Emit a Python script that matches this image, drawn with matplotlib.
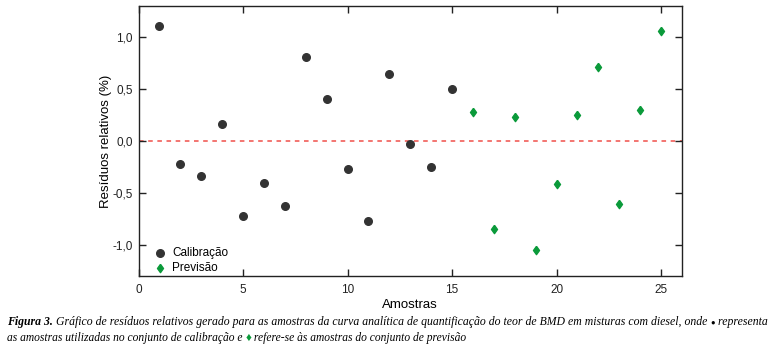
import matplotlib.pyplot as plt
from matplotlib.ticker import FuncFormatter

# Dados
amostras_cal = [1, 2, 3, 4, 5, 6, 7, 8, 9, 10, 11, 12, 13, 14, 15]
residuos_cal = [1.11, -0.22, -0.34, 0.16, -0.72, -0.40, -0.63, 0.81, 0.40,
                -0.27, -0.77, 0.65, -0.03, -0.25, 0.50]
amostras_prev = [16, 17, 18, 19, 20, 21, 22, 23, 24, 25]
residuos_prev = [0.28, -0.85, 0.23, -1.05, -0.41, 0.25, 0.71, -0.61, 0.30, 1.06]

x_ticks = [0, 5, 10, 15, 20, 25]
y_ticks = [-1.0, -0.5, 0.0, 0.5, 1.0]

COR_CAL = "#333333"
COR_PREV = "#0a9a3a"
COR_ZERO = "#f0504a"

# losango um pouco mais largo que o "d" do matplotlib
LOSANGO = [(0, 1), (0.72, 0), (0, -1), (-0.72, 0), (0, 1)]

plt.rcParams["font.family"] = ["Liberation Sans", "DejaVu Sans"]

fig = plt.figure(figsize=(7.83, 3.48), dpi=100)
ax = fig.add_axes([138.5 / 783, 1 - 276 / 348, (682 - 138.5) / 783, (276 - 6) / 348])

ax.axhline(0, color=COR_ZERO, linestyle=(0, (3, 3)), linewidth=1.1, zorder=1)
ax.scatter(amostras_cal, residuos_cal, s=30, color=COR_CAL, marker="o",
           label="Calibração", zorder=3)
ax.scatter(amostras_prev, residuos_prev, s=36, color=COR_PREV, marker=LOSANGO,
           label="Previsão", zorder=3)

ax.set_xlim(0, 26)
ax.set_ylim(-1.3, 1.3)
ax.set_xticks(x_ticks)
ax.set_yticks(y_ticks)
ax.yaxis.set_major_formatter(FuncFormatter(lambda v, p: f"{v:.1f}".replace(".", ",")))
ax.tick_params(direction="in", top=True, right=True, length=5, width=1,
               labelsize=8.5, colors="#222222")
ax.tick_params(axis="y", pad=4)
ax.tick_params(axis="x", pad=6)
for lado in ax.spines.values():
    lado.set_linewidth(1.0)
    lado.set_color("#222222")

ax.set_xlabel("Amostras", fontsize=9.5, labelpad=2)
ax.set_ylabel("Resíduos relativos (%)", fontsize=9.5)
ax.yaxis.set_label_coords(-0.048, 0.5)

ax.legend(loc="lower left", bbox_to_anchor=(0.012, -0.015), frameon=False,
          fontsize=8.5, handletextpad=0.3, borderaxespad=0.1,
          labelspacing=0.25, handlelength=1.5)

# Legenda da figura (texto em partes para colorir os simbolos)
serif = ["Liberation Serif", "DejaVu Serif"]
linha1 = [
    ("Figura 3.", "black", "bold"),
    (" Gráfico de resíduos relativos gerado para as amostras da curva analítica de quantificação do teor de BMD em misturas com diesel, onde ", "black", "normal"),
    ("●", "black", "normal"),
    (" representa", "black", "normal"),
]
linha2 = [
    ("as amostras utilizadas no conjunto de calibração e ", "black", "normal"),
    ("♦", COR_PREV, "normal"),
    (" refere-se às amostras do conjunto de previsão", "black", "normal"),
]

fig.canvas.draw()
renderer = fig.canvas.get_renderer()


def escrever_linha(partes, y_px, x0_px=7, tamanho=8.4):
    x = x0_px
    for texto, cor, peso in partes:
        tam = 5.5 if texto == "●" else tamanho
        t = fig.text(x / 783, 1 - y_px / 348, texto, color=cor, fontsize=tam,
                     fontstyle="italic", fontweight=peso, family=serif,
                     va="baseline", ha="left")
        bb = t.get_window_extent(renderer=renderer)
        x += bb.width


escrever_linha(linha1, 325, tamanho=8.5)
escrever_linha(linha2, 341, tamanho=8.3)

fig.savefig("out.png", dpi=100)
